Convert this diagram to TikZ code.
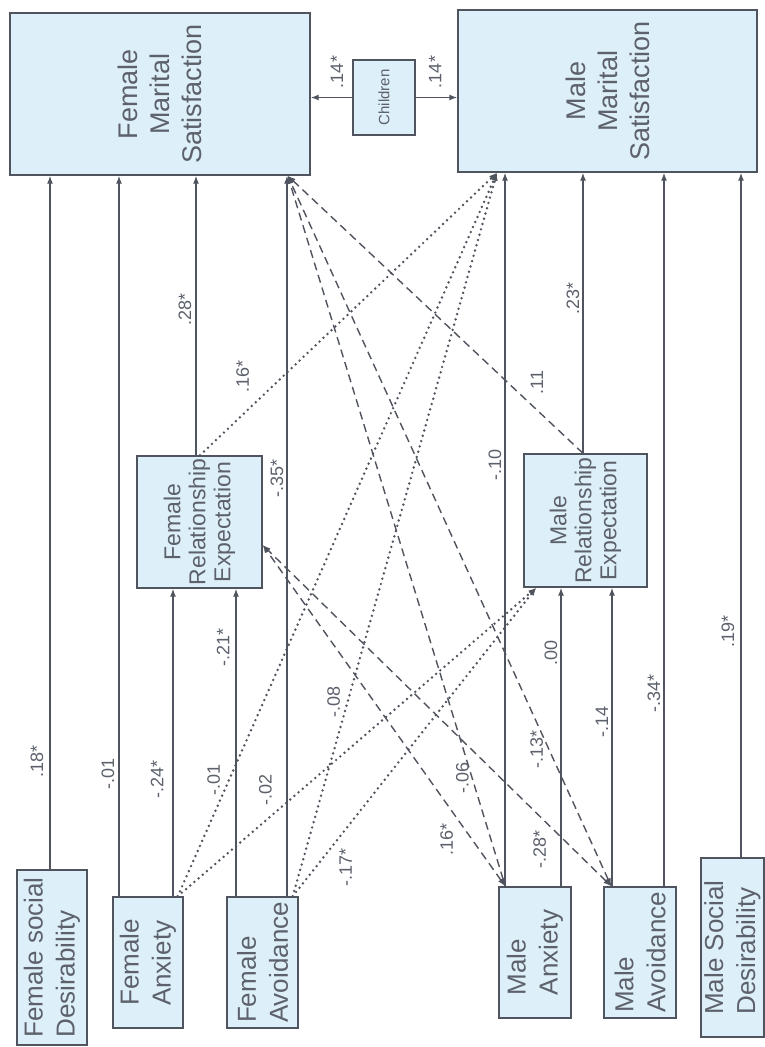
\documentclass[tikz,border=0pt]{standalone}
\usepackage{fontspec}
\setmainfont{Liberation Sans}
\usetikzlibrary{arrows.meta}
\definecolor{boxblue}{RGB}{221,239,248}
\definecolor{linegray}{RGB}{80,84,94}
\definecolor{txtgray}{RGB}{92,97,108}

\begin{document}
\begin{tikzpicture}[x=1pt, y=-1pt, >={Latex[length=8pt,width=6pt]},
		box/.style={draw=linegray, line width=1.4pt, fill=boxblue, rotate=90, inner sep=0pt, text=txtgray},
		bigbox/.style={box, align=center, font=\fontsize{27}{32}\selectfont},
		smallbox/.style={box, align=left, font=\fontsize{26}{32}\selectfont},
		rebox/.style={box, align=center, font=\fontsize{23}{25}\selectfont},
		lbl/.style={rotate=90, inner sep=1pt, text=txtgray, font=\fontsize{18}{18}\selectfont},
		direct/.style={draw=linegray, line width=1.4pt, ->},
		dotpath/.style={direct, line width=2.7pt, line cap=round, dash pattern=on 0pt off 5.5pt},
		dashpath/.style={direct, dash pattern=on 8pt off 5pt}]
		%%%%% START %%%%%
		
		\fill[white] (0,0) rectangle (765,1047);
		\useasboundingbox (0,0) rectangle (765,1047);
		
		% outcomes
		\node[bigbox, minimum width=162pt, minimum height=300pt] (fms) at (160,94) {Female\\Marital\\Satisfaction};
		\node[box, font=\fontsize{15}{15}\selectfont, minimum width=75pt, minimum height=62pt] (kids) at (384,97.5) {Children};
		\node[bigbox, minimum width=162pt, minimum height=299pt] (mms) at (607.5,91) {Male\\Marital\\Satisfaction};
		
		% mediators
		\node[rebox, minimum width=132pt, minimum height=125pt] (fre) at (199.5,522) {Female\\Relationship\\Expectation};
		\node[rebox, minimum width=133pt, minimum height=123pt] (mre) at (585.5,520.5) {Male\\Relationship\\Expectation};
		
		% predictors
		\node[smallbox, minimum width=175pt, minimum height=70pt] (fsd) at (52,957.5) {Female social\\Desirability};
		\node[smallbox, minimum width=131pt, minimum height=70pt] (fanx) at (148,962.5) {Female\\Anxiety};
		\node[smallbox, minimum width=131pt, minimum height=71pt] (favo) at (262.5,962.5) {Female\\Avoidance};
		\node[smallbox, minimum width=131pt, minimum height=72pt] (manx) at (535,952.5) {Male\\Anxiety};
		\node[smallbox, minimum width=131pt, minimum height=72pt] (mavo) at (640,952.5) {Male\\Avoidance};
		\node[smallbox, minimum width=179pt, minimum height=63pt] (msd) at (732.5,947.5) {Male Social\\Desirability};
		
		% children
		\draw[direct] (kids.north) -- (kids.north -| fms.south) node[pos=.37, yshift=25.5pt, lbl] {.14*};
		\draw[direct] (kids.south) -- (kids.south -| mms.north) node[pos=.47, yshift=25.5pt, lbl] {.14*};
		
		% female straight paths
		\draw[direct] ([xshift=-2pt]fsd.east) -- ([xshift=-2pt]fsd.east |- fms.west) node[pos=.155, xshift=-13pt, lbl] {.18*};
		\draw[direct] ([xshift=-29pt]fanx.east) -- ([xshift=-29pt]fanx.east |- fms.west) node[pos=.17, xshift=-11pt, lbl] {-.01};
		\draw[direct] ([xshift=25pt]fanx.east) -- ([xshift=25pt]fanx.east |- fre.west) node[pos=.38, xshift=-16pt, lbl] {-.24*};
		\draw[direct] ([xshift=-26.5pt]favo.east) -- ([xshift=-26.5pt]favo.east |- fre.west) node[pos=.81, xshift=-13pt, lbl] {-.21*};
		\draw[direct] ([xshift=24.5pt]favo.east) -- ([xshift=24.5pt]favo.east |- fms.west) node[pos=.58, xshift=-10pt, lbl] {-.35*};
		\draw[direct] ([xshift=-3.5pt]fre.east) -- ([xshift=-3.5pt]fre.east |- fms.west) node[pos=.52, xshift=-11pt, lbl] {.28*};
		
		% male straight paths
		\draw[direct] ([xshift=-30pt]manx.east) -- ([xshift=-30pt]manx.east |- mms.west) node[pos=.59, xshift=-10pt, lbl] {-.10};
		\draw[direct] ([xshift=26pt]manx.east) -- ([xshift=26pt]manx.east |- mre.west) node[pos=.78, xshift=-10pt, lbl] {.00};
		\draw[direct] ([xshift=-28pt]mavo.east) -- ([xshift=-28pt]mavo.east |- mre.west) node[pos=.55, xshift=-10pt, lbl] {-.14};
		\draw[direct] ([xshift=24pt]mavo.east) -- ([xshift=24pt]mavo.east |- mms.west) node[pos=.27, xshift=-10pt, lbl] {-.34*};
		\draw[direct] ([xshift=8.5pt]msd.east) -- ([xshift=8.5pt]msd.east |- mms.west) node[pos=.33, xshift=-13pt, lbl] {.19*};
		\draw[direct] ([xshift=-2.5pt]mre.east) -- ([xshift=-2.5pt]mre.east |- mms.west) node[pos=.55, xshift=-10pt, lbl] {.23*};
		
		% female to male (dotted)
		\draw[dotpath] ([xshift=.5pt]fre.east) -- ([xshift=-110.5pt]mms.west) node[pos=.278, xshift=-40pt, lbl] {.16*};
		\draw[dotpath] ([xshift=-6pt]fanx.south east) -- ([xshift=-110.5pt]mms.west) node[pos=.161, xshift=-15.5pt, lbl] {-.01};
		\draw[dotpath] ([xshift=-6pt]fanx.south east) -- ([xshift=13pt]mre.north west) node[pos=.345, xshift=-36pt, lbl] {-.02};
		\draw[dotpath] ([xshift=-6pt]favo.south east) -- ([xshift=-110.5pt]mms.west) node[pos=.269, xshift=-14pt, lbl] {-.08};
		\draw[dotpath] ([xshift=-6pt]favo.south east) -- ([xshift=13pt]mre.north west) node[pos=.094, xshift=30pt, lbl] {-.17*};
		
		% male to female (dashed)
		\draw[dashpath] ([xshift=-2.5pt]mre.east) -- ([xshift=-23pt]fms.south west) node[pos=.254, xshift=29pt, lbl] {.11};
		\draw[dashpath, <->] ([xshift=7pt]manx.north east) -- ([xshift=-23pt]fms.south west) node[pos=.153, xshift=-9.5pt, lbl] {-.06};
		\draw[dashpath, <->] ([xshift=7pt]manx.north east) -- ([yshift=-23pt]fre.south) node[pos=.137, xshift=-25.5pt, lbl] {.16*};
		\draw[dashpath, <->] ([xshift=8pt]mavo.north east) -- ([xshift=-23pt]fms.south west) node[pos=.192, xshift=-12.6pt, lbl] {-.13*};
		\draw[dashpath, <->] ([xshift=8pt]mavo.north east) -- ([yshift=-23pt]fre.south) node[pos=.108, xshift=-34pt, lbl] {-.28*};
		
		%%%%% END %%%%%
\end{tikzpicture}
\end{document}
